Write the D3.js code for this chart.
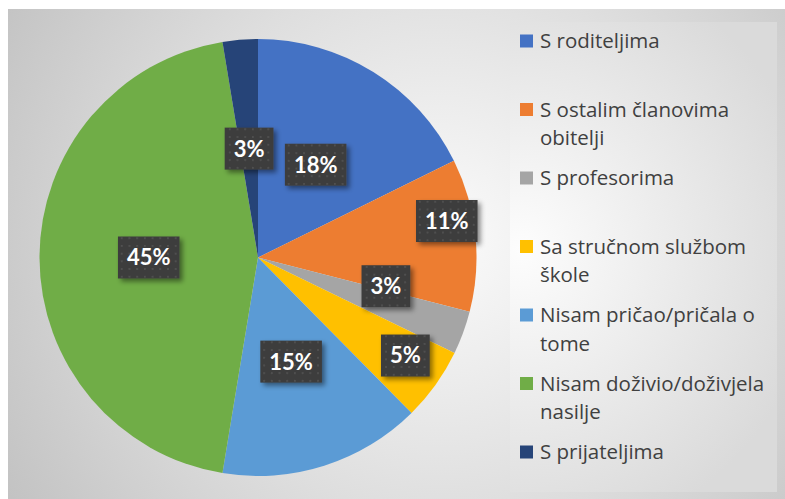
<!DOCTYPE html>
<html>
<head>
<meta charset="utf-8">
<script src="https://cdn.jsdelivr.net/npm/d3@7"></script>
<style>
  body { margin: 0; background: #fff; }
  svg { display: block; }
</style>
</head>
<body>
<div id="chart"></div>
<script>
// data
const categories = ["S roditeljima", "S ostalim članovima obitelji", "S profesorima",
  "Sa stručnom službom škole", "Nisam pričao/pričala o tome",
  "Nisam doživio/doživjela nasilje", "S prijateljima"];
const values = [17.7, 11.3, 3.2, 5.4, 15.0, 44.8, 2.6];
const labels = ["18%", "11%", "3%", "5%", "15%", "45%", "3%"];
const colors = ["#4472C4", "#ED7D31", "#A5A5A5", "#FFC000", "#5B9BD5", "#70AD47", "#264478"];

// label placement: share of radius and angle nudge (deg), Excel "best fit" moved a few
const labelRadius = [0.5, 0.88, 0.6, 0.81, 0.5, 0.5, 0.5];
const labelNudge = [0, -5, -7.5, -2, 0, 0, 0];

const W = 785, H = 499;
const cx = 258, cy = 257.5, R = 218.5;

const svg = d3.select("#chart").append("svg")
  .attr("width", W).attr("height", H);

const defs = svg.append("defs");

const bg = defs.append("radialGradient").attr("id", "bg")
  .attr("gradientUnits", "userSpaceOnUse")
  .attr("cx", 440).attr("cy", 240).attr("r", 500);
bg.append("stop").attr("offset", 0).attr("stop-color", "#fbfbfb");
bg.append("stop").attr("offset", 0.55).attr("stop-color", "#dedede");
bg.append("stop").attr("offset", 1).attr("stop-color", "#c3c3c3");

const lg = defs.append("radialGradient").attr("id", "lg")
  .attr("gradientUnits", "userSpaceOnUse")
  .attr("cx", 520).attr("cy", 250).attr("r", 300);
lg.append("stop").attr("offset", 0).attr("stop-color", "#fdfdfd");
lg.append("stop").attr("offset", 1).attr("stop-color", "#dadada");

const pat = defs.append("pattern").attr("id", "dots")
  .attr("patternUnits", "userSpaceOnUse")
  .attr("width", 7.7).attr("height", 7.7);
pat.append("rect").attr("width", 7.7).attr("height", 7.7).attr("fill", "#3d3d3d");
pat.append("rect").attr("x", 3).attr("y", 3).attr("width", 1.6).attr("height", 1.6)
  .attr("fill", "#575757");

const shadow = defs.append("filter").attr("id", "shadow")
  .attr("x", "-30%").attr("y", "-30%").attr("width", "170%").attr("height", "170%");
shadow.append("feDropShadow").attr("dx", 3).attr("dy", 3)
  .attr("stdDeviation", 2.5).attr("flood-color", "#000").attr("flood-opacity", 0.45);

// chart area
svg.append("rect").attr("x", 8).attr("y", 9)
  .attr("width", W - 8).attr("height", H - 9)
  .attr("fill", "url(#bg)");

svg.append("rect").attr("x", 510).attr("y", 22)
  .attr("width", 267).attr("height", 470)
  .attr("fill", "url(#lg)");

// pie
const pie = d3.pie().sort(null).value(d => d);
const arcs = pie(values);
const arc = d3.arc().innerRadius(0).outerRadius(R);

const g = svg.append("g").attr("transform", `translate(${cx},${cy})`);

g.selectAll("path.slice")
  .data(arcs)
  .join("path")
  .attr("class", "slice")
  .attr("d", arc)
  .attr("fill", (d, i) => colors[i]);

// data labels
const lab = g.selectAll("g.lab")
  .data(arcs)
  .join("g")
  .attr("class", "lab")
  .attr("transform", (d, i) => {
    const a = (d.startAngle + d.endAngle) / 2 + labelNudge[i] * Math.PI / 180;
    const r = R * labelRadius[i];
    return `translate(${Math.sin(a) * r},${-Math.cos(a) * r})`;
  });

lab.append("text")
  .attr("text-anchor", "middle")
  .attr("dy", "0.36em")
  .style("font-family", "Lato, 'Open Sans', sans-serif")
  .style("font-weight", "bold")
  .style("font-size", "22px")
  .attr("fill", "#fff")
  .text((d, i) => labels[i]);

lab.each(function () {
  const grp = d3.select(this);
  const w = grp.select("text").node().getComputedTextLength() + 18;
  grp.insert("rect", "text")
    .attr("x", -w / 2).attr("y", -21)
    .attr("width", w).attr("height", 42)
    .attr("fill", "url(#dots)")
    .attr("filter", "url(#shadow)");
});

// legend
const legX = 520, legY = 41, legStep = 68.5, lineH = 28.5, maxW = 236;

const leg = svg.append("g").attr("class", "legend");

categories.forEach((name, i) => {
  const item = leg.append("g")
    .attr("transform", `translate(${legX},${legY + i * legStep})`);
  item.append("rect")
    .attr("x", 0).attr("y", -6.5)
    .attr("width", 13).attr("height", 13)
    .attr("fill", colors[i]);
  const t = item.append("text")
    .attr("x", 20)
    .style("font-family", "'Open Sans', 'Noto Sans', sans-serif")
    .style("font-size", "20.5px")
    .attr("fill", "#404040");
  // wrap words like the Excel legend does
  const words = name.split(" ");
  let line = [], n = 0;
  let ts = t.append("tspan").attr("x", 20).attr("y", 0).attr("dy", "0.35em");
  words.forEach(w => {
    line.push(w);
    ts.text(line.join(" "));
    if (ts.node().getComputedTextLength() > maxW && line.length > 1) {
      line.pop();
      ts.text(line.join(" "));
      line = [w];
      n++;
      ts = t.append("tspan").attr("x", 20).attr("y", n * lineH).attr("dy", "0.35em").text(w);
    }
  });
});
</script>
</body>
</html>
